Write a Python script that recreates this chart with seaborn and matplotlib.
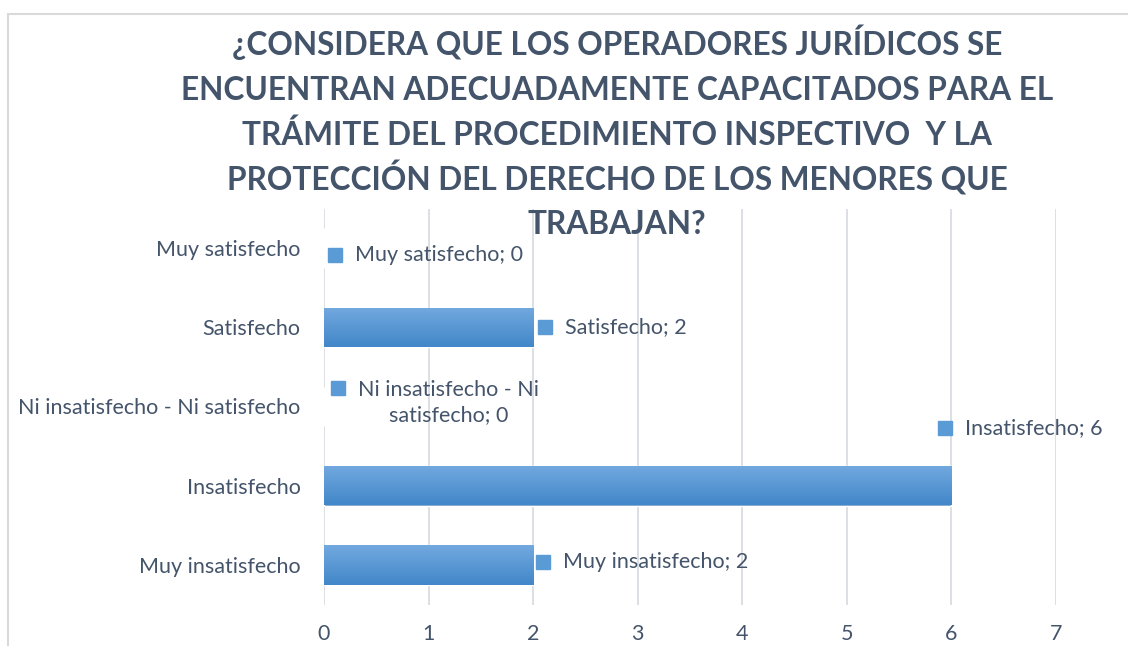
import numpy as np
import matplotlib
matplotlib.use("Agg")
import matplotlib.pyplot as plt
import seaborn as sns
from matplotlib.patches import Rectangle
from matplotlib.transforms import offset_copy

# Data
categories = ["Muy satisfecho", "Satisfecho", "Ni insatisfecho - Ni satisfecho",
              "Insatisfecho", "Muy insatisfecho"]
values = [0, 2, 0, 6, 2]
label_texts = ["Muy satisfecho; 0", "Satisfecho; 2", "Ni insatisfecho - Ni\nsatisfecho; 0",
               "Insatisfecho; 6", "Muy insatisfecho; 2"]
title_lines = ["¿CONSIDERA QUE LOS OPERADORES JURÍDICOS SE",
               "ENCUENTRAN ADECUADAMENTE CAPACITADOS PARA EL",
               "TRÁMITE DEL PROCEDIMIENTO INSPECTIVO  Y LA",
               "PROTECCIÓN DEL DERECHO DE LOS MENORES QUE",
               "TRABAJAN?"]

# label layout (pixel offsets of the legend key from bar end / row centre, up = +)
key_dx = [11, 12, 14, -6, 10]
key_dy = [-7, 0, 19, 58, 3]

sns.set_style("white")
plt.rcParams['font.family'] = ['Lato', 'DejaVu Sans']

text_col = "#44546A"
grid_col = "#D9DDE3"
fs = 15.5

fig = plt.figure(figsize=(11.28, 6.46), dpi=100)
ax = fig.add_axes([324 / 1128, 1 - 604.5 / 646, (1056 - 324) / 1128, (604.5 - 208.5) / 646])

sns.barplot(x=values, y=categories, orient="h", width=0.5, color="#5B9BD5", ax=ax, zorder=2)

# gradient fill on bars
grad = np.linspace(0, 1, 64).reshape(-1, 1)
cmap = matplotlib.colors.LinearSegmentedColormap.from_list("bar", ["#72a9df", "#4287c9"])
for p in ax.patches:
    if p.get_width() <= 0:
        continue
    x0, y0 = p.get_x(), p.get_y()
    w, h = p.get_width(), p.get_height()
    im = ax.imshow(grad, cmap=cmap, aspect="auto", extent=(x0, x0 + w, y0 + h, y0),
                   origin="upper", zorder=3)
    im.set_clip_path(p)

ax.set_xlim(0, 7)
ax.set_ylim(4.5, -0.5)
ax.set_xticks(range(8))
ax.grid(axis="x", color=grid_col, linewidth=1.3, zorder=0)
ax.set_axisbelow(True)
for s in ax.spines.values():
    s.set_visible(False)
ax.tick_params(axis="both", length=0, labelsize=fs, colors=text_col)
ax.tick_params(axis="y", pad=17)
ax.tick_params(axis="x", pad=14)
ax.set_xlabel("")
ax.set_ylabel("")

# data labels with legend key
for i, (v, txt) in enumerate(zip(values, label_texts)):
    dx, dy = key_dx[i], key_dy[i]
    ax.plot([v], [i], marker="s", markersize=10, color="#5B9BD5",
            transform=offset_copy(ax.transData, fig=fig, x=dx, y=dy, units="dots"),
            zorder=4, clip_on=False)
    if "\n" in txt:
        ax.annotate(txt, xy=(v, i), xytext=(dx + 20, dy - 15), textcoords="offset pixels",
                    ha="left", va="center", multialignment="center", fontsize=fs,
                    color=text_col, linespacing=1.3)
    else:
        ax.annotate(txt, xy=(v, i), xytext=(dx + 20, dy), textcoords="offset pixels",
                    ha="left", va="center", fontsize=fs, color=text_col)

# title, one line at a time (baselines in pixels from top)
baselines = [55, 100, 145, 190, 234]
for line, b in zip(title_lines, baselines):
    fig.text(617 / 1128, 1 - b / 646, line, ha="center", va="baseline", fontsize=22.8,
             fontweight="bold", color=text_col, zorder=10)

# chart border
fig.patches.append(Rectangle((8 / 1128, -0.1), 1.2, 1 - 14 / 646 + 0.1,
                             transform=fig.transFigure, fill=False,
                             edgecolor="#D9D9D9", linewidth=1.5))

fig.savefig("out.png", dpi=100)
